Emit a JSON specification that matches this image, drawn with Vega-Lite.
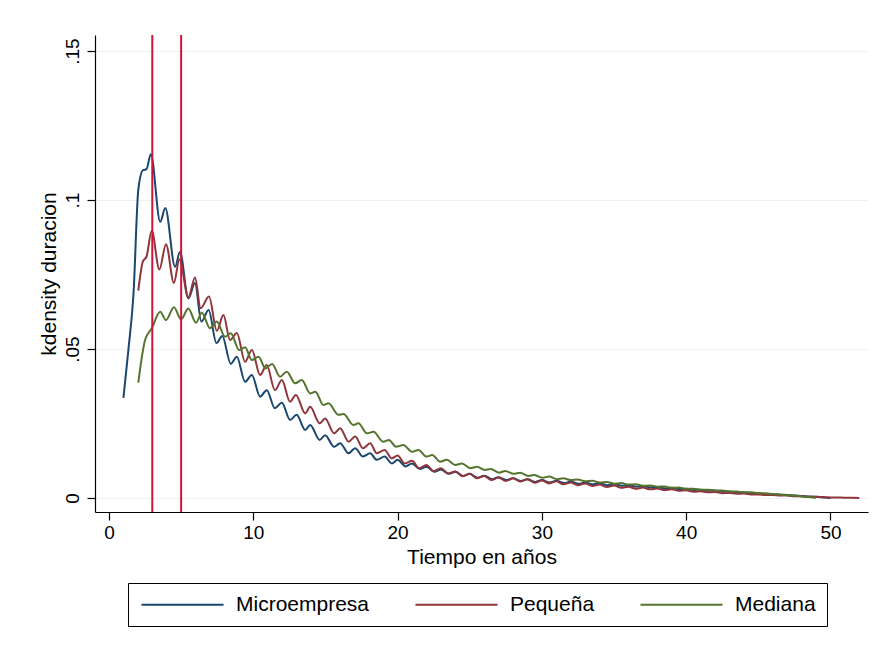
{
  "$schema": "https://vega.github.io/schema/vega-lite/v6.json",
  "width": 773,
  "height": 477,
  "autosize": {"type": "none"},
  "padding": {"left": 95, "top": 35, "right": 11, "bottom": 138},
  "background": "white",
  "config": {
    "view": {"stroke": null},
    "font": "Liberation Sans",
    "axis": {
      "domainColor": "black",
      "tickColor": "black",
      "labelColor": "black",
      "titleColor": "black",
      "labelFont": "Liberation Sans",
      "titleFont": "Liberation Sans",
      "labelFontSize": 19,
      "titleFontSize": 21,
      "titleFontWeight": "normal",
      "tickSize": 8,
      "domainWidth": 1.2,
      "tickWidth": 1.2
    },
    "legend": {
      "orient": "none",
      "legendX": 33,
      "legendY": 548,
      "direction": "horizontal",
      "strokeColor": "black",
      "padding": 11,
      "symbolType": "M-6,0H6",
      "symbolSize": 187,
      "symbolStrokeWidth": 2.2,
      "symbolOffset": 33,
      "labelFontSize": 21,
      "labelFont": "Liberation Sans",
      "labelColor": "black",
      "labelOffset": 43,
      "columnPadding": 41
    }
  },
  "datasets": {
    "curves": [
      {"g":"Microempresa","t":1.0,"d":0.0336},{"g":"Microempresa","t":1.35,"d":0.050},{"g":"Microempresa","t":1.7,"d":0.0687},{"g":"Microempresa","t":2.03,"d":0.1034},{"g":"Microempresa","t":2.35,"d":0.110},{"g":"Microempresa","t":2.6,"d":0.1104},{"g":"Microempresa","t":2.9,"d":0.1154},{"g":"Microempresa","t":3.55,"d":0.0927},{"g":"Microempresa","t":3.9,"d":0.0973},{"g":"Microempresa","t":4.58,"d":0.0776},{"g":"Microempresa","t":4.92,"d":0.0826},{"g":"Microempresa","t":5.5,"d":0.067},{"g":"Microempresa","t":5.96,"d":0.0722},{"g":"Microempresa","t":6.4,"d":0.0592},{"g":"Microempresa","t":6.9,"d":0.0631},{"g":"Microempresa","t":7.45,"d":0.052},{"g":"Microempresa","t":7.85,"d":0.0544},{"g":"Microempresa","t":8.44,"d":0.045},{"g":"Microempresa","t":8.86,"d":0.0474},{"g":"Microempresa","t":9.43,"d":0.039},{"g":"Microempresa","t":9.9,"d":0.0413},{"g":"Microempresa","t":10.47,"d":0.034},{"g":"Microempresa","t":10.93,"d":0.0362},{"g":"Microempresa","t":11.5,"d":0.0301},{"g":"Microempresa","t":11.98,"d":0.032},{"g":"Microempresa","t":12.55,"d":0.0262},{"g":"Microempresa","t":13.0,"d":0.0279},{"g":"Microempresa","t":13.6,"d":0.0228},{"g":"Microempresa","t":13.94,"d":0.0245},{"g":"Microempresa","t":14.6,"d":0.0195},{"g":"Microempresa","t":14.98,"d":0.0211},{"g":"Microempresa","t":15.6,"d":0.0172},{"g":"Microempresa","t":16.02,"d":0.0184},{"g":"Microempresa","t":16.6,"d":0.015},{"g":"Microempresa","t":17.06,"d":0.0167},{"g":"Microempresa","t":17.6,"d":0.0139},{"g":"Microempresa","t":18.1,"d":0.015},{"g":"Microempresa","t":18.56,"d":0.0128},{"g":"Microempresa","t":19.1,"d":0.0139},{"g":"Microempresa","t":19.6,"d":0.0116},{"g":"Microempresa","t":20.0,"d":0.0128},{"g":"Microempresa","t":20.55,"d":0.0106},{"g":"Microempresa","t":21.0,"d":0.0116},{"g":"Microempresa","t":21.55,"d":0.0097},{"g":"Microempresa","t":22.0,"d":0.0105},{"g":"Microempresa","t":22.55,"d":0.0088},{"g":"Microempresa","t":23.0,"d":0.0096},{"g":"Microempresa","t":23.55,"d":0.0081},{"g":"Microempresa","t":24.0,"d":0.0088},{"g":"Microempresa","t":24.55,"d":0.0074},{"g":"Microempresa","t":25.0,"d":0.0081},{"g":"Microempresa","t":25.55,"d":0.0068},{"g":"Microempresa","t":26.0,"d":0.0075},{"g":"Microempresa","t":26.55,"d":0.0063},{"g":"Microempresa","t":27.0,"d":0.0070},{"g":"Microempresa","t":27.55,"d":0.0060},{"g":"Microempresa","t":28.0,"d":0.0066},{"g":"Microempresa","t":28.55,"d":0.0057},{"g":"Microempresa","t":29.0,"d":0.0063},{"g":"Microempresa","t":29.55,"d":0.0054},{"g":"Microempresa","t":30.0,"d":0.0060},{"g":"Microempresa","t":30.55,"d":0.0052},{"g":"Microempresa","t":31.0,"d":0.0058},{"g":"Microempresa","t":31.55,"d":0.0050},{"g":"Microempresa","t":32.0,"d":0.0055},{"g":"Microempresa","t":32.55,"d":0.0048},{"g":"Microempresa","t":33.0,"d":0.0052},{"g":"Microempresa","t":33.55,"d":0.0046},{"g":"Microempresa","t":34.0,"d":0.0049},{"g":"Microempresa","t":34.55,"d":0.0043},{"g":"Microempresa","t":35.0,"d":0.0046},{"g":"Microempresa","t":35.55,"d":0.0041},{"g":"Microempresa","t":36.0,"d":0.0043},{"g":"Microempresa","t":36.55,"d":0.0038},{"g":"Microempresa","t":37.0,"d":0.0040},{"g":"Microempresa","t":37.55,"d":0.0035},{"g":"Microempresa","t":38.0,"d":0.0037},{"g":"Microempresa","t":38.55,"d":0.0032},{"g":"Microempresa","t":39.0,"d":0.0034},{"g":"Microempresa","t":39.55,"d":0.0030},{"g":"Microempresa","t":40.0,"d":0.0031},{"g":"Microempresa","t":40.55,"d":0.0027},{"g":"Microempresa","t":41.0,"d":0.0028},{"g":"Microempresa","t":41.55,"d":0.0024},{"g":"Microempresa","t":42.0,"d":0.0025},{"g":"Microempresa","t":42.55,"d":0.0021},{"g":"Microempresa","t":43.0,"d":0.0022},{"g":"Microempresa","t":43.55,"d":0.0018},{"g":"Microempresa","t":44.0,"d":0.0019},{"g":"Microempresa","t":44.55,"d":0.0016},{"g":"Microempresa","t":45.0,"d":0.0016},{"g":"Microempresa","t":45.55,"d":0.0013},{"g":"Microempresa","t":46.0,"d":0.0013},{"g":"Microempresa","t":46.55,"d":0.0011},{"g":"Microempresa","t":47.0,"d":0.0010},{"g":"Microempresa","t":47.55,"d":0.0008},{"g":"Microempresa","t":48.0,"d":0.0007},{"g":"Microempresa","t":48.55,"d":0.0005},{"g":"Microempresa","t":49.0,"d":0.0004},{"g":"Microempresa","t":49.5,"d":0.0002},{"g":"Microempresa","t":50.0,"d":0.0},
      {"g":"Pequeña","t":2.03,"d":0.0696},{"g":"Pequeña","t":2.35,"d":0.0794},{"g":"Pequeña","t":2.6,"d":0.081},{"g":"Pequeña","t":2.96,"d":0.0897},{"g":"Pequeña","t":3.49,"d":0.0767},{"g":"Pequeña","t":3.95,"d":0.0852},{"g":"Pequeña","t":4.5,"d":0.0722},{"g":"Pequeña","t":4.88,"d":0.0801},{"g":"Pequeña","t":5.5,"d":0.0673},{"g":"Pequeña","t":5.96,"d":0.074},{"g":"Pequeña","t":6.35,"d":0.0637},{"g":"Pequeña","t":6.93,"d":0.0676},{"g":"Pequeña","t":7.47,"d":0.0561},{"g":"Pequeña","t":7.93,"d":0.0614},{"g":"Pequeña","t":8.39,"d":0.053},{"g":"Pequeña","t":8.86,"d":0.0554},{"g":"Pequeña","t":9.43,"d":0.0457},{"g":"Pequeña","t":9.9,"d":0.0497},{"g":"Pequeña","t":10.47,"d":0.0413},{"g":"Pequeña","t":10.93,"d":0.0446},{"g":"Pequeña","t":11.5,"d":0.0362},{"g":"Pequeña","t":11.98,"d":0.0396},{"g":"Pequeña","t":12.55,"d":0.0323},{"g":"Pequeña","t":12.95,"d":0.0346},{"g":"Pequeña","t":13.6,"d":0.0284},{"g":"Pequeña","t":13.94,"d":0.0306},{"g":"Pequeña","t":14.6,"d":0.0251},{"g":"Pequeña","t":14.98,"d":0.0267},{"g":"Pequeña","t":15.6,"d":0.0217},{"g":"Pequeña","t":16.02,"d":0.0234},{"g":"Pequeña","t":16.6,"d":0.0189},{"g":"Pequeña","t":17.06,"d":0.0206},{"g":"Pequeña","t":17.6,"d":0.0167},{"g":"Pequeña","t":18.1,"d":0.0184},{"g":"Pequeña","t":18.56,"d":0.015},{"g":"Pequeña","t":19.1,"d":0.0161},{"g":"Pequeña","t":19.6,"d":0.0133},{"g":"Pequeña","t":20.0,"d":0.0143},{"g":"Pequeña","t":20.5,"d":0.0116},{"g":"Pequeña","t":21.0,"d":0.0125},{"g":"Pequeña","t":21.5,"d":0.0100},{"g":"Pequeña","t":22.0,"d":0.0111},{"g":"Pequeña","t":22.5,"d":0.0090},{"g":"Pequeña","t":23.0,"d":0.0100},{"g":"Pequeña","t":23.5,"d":0.0082},{"g":"Pequeña","t":24.0,"d":0.0089},{"g":"Pequeña","t":24.5,"d":0.0073},{"g":"Pequeña","t":25.0,"d":0.0081},{"g":"Pequeña","t":25.5,"d":0.0066},{"g":"Pequeña","t":26.0,"d":0.0074},{"g":"Pequeña","t":26.5,"d":0.0060},{"g":"Pequeña","t":27.0,"d":0.0069},{"g":"Pequeña","t":27.5,"d":0.0057},{"g":"Pequeña","t":28.0,"d":0.0066},{"g":"Pequeña","t":28.5,"d":0.0055},{"g":"Pequeña","t":29.0,"d":0.0063},{"g":"Pequeña","t":29.5,"d":0.0051},{"g":"Pequeña","t":30.0,"d":0.0059},{"g":"Pequeña","t":30.5,"d":0.0049},{"g":"Pequeña","t":31.0,"d":0.0056},{"g":"Pequeña","t":31.5,"d":0.0046},{"g":"Pequeña","t":32.0,"d":0.0052},{"g":"Pequeña","t":32.5,"d":0.0043},{"g":"Pequeña","t":33.0,"d":0.0049},{"g":"Pequeña","t":33.5,"d":0.0040},{"g":"Pequeña","t":34.0,"d":0.0045},{"g":"Pequeña","t":34.5,"d":0.0037},{"g":"Pequeña","t":35.0,"d":0.0042},{"g":"Pequeña","t":35.5,"d":0.0034},{"g":"Pequeña","t":36.0,"d":0.0038},{"g":"Pequeña","t":36.5,"d":0.0031},{"g":"Pequeña","t":37.0,"d":0.0035},{"g":"Pequeña","t":37.5,"d":0.0029},{"g":"Pequeña","t":38.0,"d":0.0032},{"g":"Pequeña","t":38.5,"d":0.0026},{"g":"Pequeña","t":39.0,"d":0.0029},{"g":"Pequeña","t":39.5,"d":0.0024},{"g":"Pequeña","t":40.0,"d":0.0026},{"g":"Pequeña","t":40.5,"d":0.0021},{"g":"Pequeña","t":41.0,"d":0.0023},{"g":"Pequeña","t":41.5,"d":0.0019},{"g":"Pequeña","t":42.0,"d":0.0020},{"g":"Pequeña","t":42.5,"d":0.0016},{"g":"Pequeña","t":43.0,"d":0.0017},{"g":"Pequeña","t":43.5,"d":0.0014},{"g":"Pequeña","t":44.0,"d":0.0015},{"g":"Pequeña","t":44.5,"d":0.0012},{"g":"Pequeña","t":45.0,"d":0.0012},{"g":"Pequeña","t":45.5,"d":0.0010},{"g":"Pequeña","t":46.0,"d":0.0010},{"g":"Pequeña","t":46.5,"d":0.0008},{"g":"Pequeña","t":47.0,"d":0.0008},{"g":"Pequeña","t":47.5,"d":0.0006},{"g":"Pequeña","t":48.0,"d":0.0006},{"g":"Pequeña","t":48.5,"d":0.0004},{"g":"Pequeña","t":49.0,"d":0.0004},{"g":"Pequeña","t":49.5,"d":0.0003},{"g":"Pequeña","t":50.0,"d":0.0002},{"g":"Pequeña","t":51.0,"d":0.0001},{"g":"Pequeña","t":52.0,"d":0.0},
      {"g":"Mediana","t":2.03,"d":0.0387},{"g":"Mediana","t":2.5,"d":0.053},{"g":"Mediana","t":2.96,"d":0.0569},{"g":"Mediana","t":3.55,"d":0.0625},{"g":"Mediana","t":3.95,"d":0.0597},{"g":"Mediana","t":4.5,"d":0.064},{"g":"Mediana","t":5.0,"d":0.060},{"g":"Mediana","t":5.5,"d":0.0636},{"g":"Mediana","t":6.03,"d":0.0588},{"g":"Mediana","t":6.43,"d":0.0622},{"g":"Mediana","t":7.0,"d":0.057},{"g":"Mediana","t":7.47,"d":0.0592},{"g":"Mediana","t":8.04,"d":0.0541},{"g":"Mediana","t":8.44,"d":0.0553},{"g":"Mediana","t":9.02,"d":0.0497},{"g":"Mediana","t":9.43,"d":0.0506},{"g":"Mediana","t":9.9,"d":0.0463},{"g":"Mediana","t":10.36,"d":0.0474},{"g":"Mediana","t":10.85,"d":0.0435},{"g":"Mediana","t":11.3,"d":0.045},{"g":"Mediana","t":11.86,"d":0.0407},{"g":"Mediana","t":12.32,"d":0.0424},{"g":"Mediana","t":12.9,"d":0.0385},{"g":"Mediana","t":13.36,"d":0.0396},{"g":"Mediana","t":13.94,"d":0.0351},{"g":"Mediana","t":14.3,"d":0.0357},{"g":"Mediana","t":14.86,"d":0.0312},{"g":"Mediana","t":15.21,"d":0.0318},{"g":"Mediana","t":15.9,"d":0.0279},{"g":"Mediana","t":16.25,"d":0.0282},{"g":"Mediana","t":16.94,"d":0.0245},{"g":"Mediana","t":17.29,"d":0.0251},{"g":"Mediana","t":17.87,"d":0.0217},{"g":"Mediana","t":18.33,"d":0.0222},{"g":"Mediana","t":19.0,"d":0.0189},{"g":"Mediana","t":19.4,"d":0.0195},{"g":"Mediana","t":19.9,"d":0.0172},{"g":"Mediana","t":20.4,"d":0.0178},{"g":"Mediana","t":21.0,"d":0.0155},{"g":"Mediana","t":21.45,"d":0.0161},{"g":"Mediana","t":22.0,"d":0.0139},{"g":"Mediana","t":22.4,"d":0.0144},{"g":"Mediana","t":22.95,"d":0.0122},{"g":"Mediana","t":23.42,"d":0.0128},{"g":"Mediana","t":24.0,"d":0.0111},{"g":"Mediana","t":24.46,"d":0.0116},{"g":"Mediana","t":25.03,"d":0.0100},{"g":"Mediana","t":25.5,"d":0.0105},{"g":"Mediana","t":26.05,"d":0.0094},{"g":"Mediana","t":26.45,"d":0.0097},{"g":"Mediana","t":27.05,"d":0.0085},{"g":"Mediana","t":27.46,"d":0.0091},{"g":"Mediana","t":28.04,"d":0.0081},{"g":"Mediana","t":28.5,"d":0.0085},{"g":"Mediana","t":29.05,"d":0.0074},{"g":"Mediana","t":29.45,"d":0.0077},{"g":"Mediana","t":30.05,"d":0.0068},{"g":"Mediana","t":30.5,"d":0.0072},{"g":"Mediana","t":31.05,"d":0.0063},{"g":"Mediana","t":31.5,"d":0.0066},{"g":"Mediana","t":32.0,"d":0.0060},{"g":"Mediana","t":32.5,"d":0.0062},{"g":"Mediana","t":33.0,"d":0.0056},{"g":"Mediana","t":33.5,"d":0.0058},{"g":"Mediana","t":34.0,"d":0.0052},{"g":"Mediana","t":34.5,"d":0.0054},{"g":"Mediana","t":35.0,"d":0.0048},{"g":"Mediana","t":35.5,"d":0.0050},{"g":"Mediana","t":36.0,"d":0.0045},{"g":"Mediana","t":36.5,"d":0.0046},{"g":"Mediana","t":37.0,"d":0.0041},{"g":"Mediana","t":37.5,"d":0.0042},{"g":"Mediana","t":38.0,"d":0.0038},{"g":"Mediana","t":38.5,"d":0.0039},{"g":"Mediana","t":39.0,"d":0.0034},{"g":"Mediana","t":39.5,"d":0.0035},{"g":"Mediana","t":40.0,"d":0.0031},{"g":"Mediana","t":40.5,"d":0.0031},{"g":"Mediana","t":41.0,"d":0.0028},{"g":"Mediana","t":41.5,"d":0.0028},{"g":"Mediana","t":42.0,"d":0.0025},{"g":"Mediana","t":42.5,"d":0.0025},{"g":"Mediana","t":43.0,"d":0.0022},{"g":"Mediana","t":43.5,"d":0.0022},{"g":"Mediana","t":44.0,"d":0.0019},{"g":"Mediana","t":44.5,"d":0.0019},{"g":"Mediana","t":45.0,"d":0.0016},{"g":"Mediana","t":45.5,"d":0.0016},{"g":"Mediana","t":46.0,"d":0.0013},{"g":"Mediana","t":46.5,"d":0.0012},{"g":"Mediana","t":47.0,"d":0.0009},{"g":"Mediana","t":47.5,"d":0.0008},{"g":"Mediana","t":48.0,"d":0.0005},{"g":"Mediana","t":48.5,"d":0.0003},{"g":"Mediana","t":49.0,"d":0.0001}
    ],
    "xlines": [{"x": 3}, {"x": 5}]
  },
  "layer": [
    {
      "data": {"name": "curves"},
      "mark": {"type": "line", "interpolate": "monotone", "strokeWidth": 2, "clip": true},
      "encoding": {
        "x": {
          "field": "t", "type": "quantitative",
          "scale": {"domain": [-0.97, 52.6], "nice": false, "zero": false},
          "axis": {"title": "Tiempo en años", "values": [0, 10, 20, 30, 40, 50], "grid": false, "labelPadding": 3, "titlePadding": 4}
        },
        "y": {
          "field": "d", "type": "quantitative",
          "scale": {"domain": [-0.0047, 0.1554], "nice": false, "zero": false},
          "axis": {
            "title": "kdensity duracion",
            "values": [0, 0.05, 0.1, 0.15],
            "labelExpr": "datum.value == 0 ? '0' : substring(format(datum.value, '~g'), 1)",
            "labelAngle": -90,
            "labelAlign": "center",
            "labelBaseline": "bottom",
            "labelPadding": 5,
            "titlePadding": 4,
            "grid": true,
            "gridColor": "#edf2f3",
            "gridWidth": 1.2
          }
        },
        "color": {
          "field": "g", "type": "nominal",
          "scale": {"domain": ["Microempresa", "Pequeña", "Mediana"], "range": ["#1a476f", "#90353b", "#55752f"]},
          "legend": {"title": null}
        }
      }
    },
    {
      "data": {"name": "xlines"},
      "mark": {"type": "rule", "color": "#d2143a", "strokeWidth": 2},
      "encoding": {"x": {"field": "x", "type": "quantitative"}}
    }
  ]
}
